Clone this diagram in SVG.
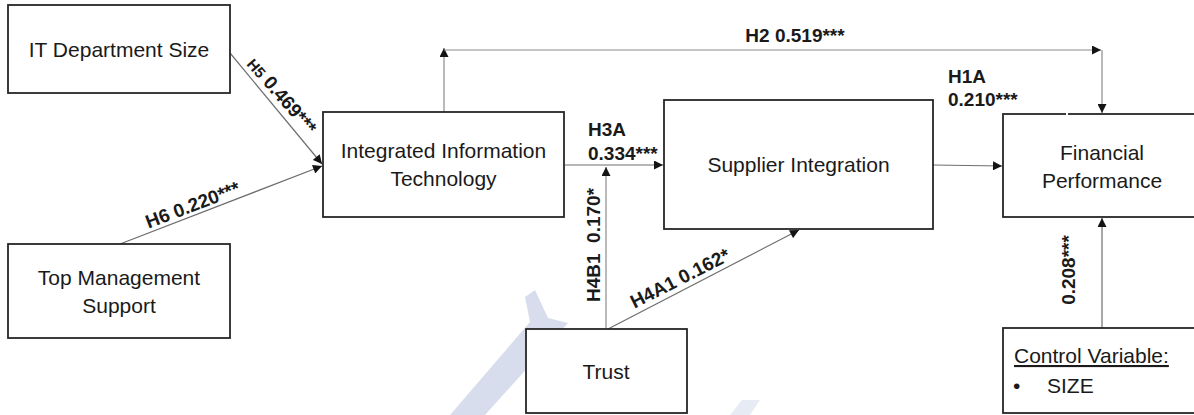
<svg xmlns="http://www.w3.org/2000/svg" width="1194" height="415" viewBox="0 0 1194 415">
  <defs>
    <style>
      .box { fill: #ffffff; stroke: #262626; stroke-width: 1.8; }
      .lbl { font-family: "Liberation Sans", Arial, sans-serif; font-size: 21px; fill: #1a1a1a; }
      .mid { text-anchor: middle; }
      .est { font-family: "Liberation Sans", Arial, sans-serif; font-size: 19px; font-weight: bold; fill: #1a1a1a; }
      .path { fill: none; stroke: #6e6e6e; stroke-width: 1.2; }
      .light { stroke: #8c8c8c; }
    </style>
    <marker id="arrow" viewBox="0 0 10 10" refX="10" refY="5" markerWidth="10" markerHeight="9" markerUnits="userSpaceOnUse" orient="auto">
      <path d="M0,0 L10,5 L0,10 z" fill="#141414"/>
    </marker>
  </defs>

  <rect width="1194" height="415" fill="#ffffff"/>

  <!-- faint background mark -->
  <g id="backdrop-mark" fill="#d7ddec">
    <polygon points="525,297 535,290 548,318 568,323 485,415 450,415 530,322"/>
    <polygon points="730,415 742,400 760,400 750,415" opacity="0.6"/>
  </g>

  <!-- connectors -->
  <g id="connectors">
    <line class="path" x1="230" y1="53" x2="322" y2="164" marker-end="url(#arrow)"/>
    <line class="path" x1="120" y1="244" x2="322" y2="166" marker-end="url(#arrow)"/>
    <line class="path light" x1="444" y1="112" x2="444" y2="48" marker-end="url(#arrow)"/>
    <line class="path light" x1="444" y1="50" x2="1101" y2="50" marker-end="url(#arrow)"/>
    <line class="path light" x1="1102" y1="50" x2="1102" y2="113" marker-end="url(#arrow)"/>
    <line class="path" x1="565" y1="165" x2="663" y2="165" marker-end="url(#arrow)"/>
    <line class="path light" x1="606" y1="329" x2="606" y2="167" marker-end="url(#arrow)"/>
    <line class="path" x1="608" y1="329" x2="799" y2="230" marker-end="url(#arrow)"/>
    <line class="path" x1="933" y1="165" x2="1002" y2="166" marker-end="url(#arrow)"/>
    <line class="path" x1="1102" y1="328" x2="1102" y2="218" marker-end="url(#arrow)"/>

    <!-- path estimates -->
    <text class="est" transform="translate(277,100) rotate(49)" text-anchor="middle"><tspan font-size="15">H5</tspan> 0.469***</text>
    <text class="est" transform="translate(195,211) rotate(-20.8)" text-anchor="middle">H6 0.220***</text>
    <text class="est" x="795" y="42" text-anchor="middle">H2 0.519***</text>
    <text class="est" x="588" y="136">H3A</text>
    <text class="est" x="588" y="160">0.334***</text>
    <text class="est" x="948" y="83">H1A</text>
    <text class="est" x="948" y="106">0.210***</text>
    <text class="est" transform="translate(600,245) rotate(-90)" text-anchor="middle" xml:space="preserve">H4B1  0.170*</text>
    <text class="est" transform="translate(683,284) rotate(-27)" text-anchor="middle">H4A1 0.162*</text>
    <text class="est" transform="translate(1075,270) rotate(-90)" text-anchor="middle">0.208***</text>
  </g>

  <g id="it-department-size">
    <rect class="box" x="8" y="5" width="222" height="88"/>
    <text class="lbl mid" x="119" y="57">IT Department Size</text>
  </g>

  <g id="top-management-support">
    <rect class="box" x="8" y="244" width="222" height="94"/>
    <text class="lbl mid" x="119" y="285">Top Management</text>
    <text class="lbl mid" x="119" y="313">Support</text>
  </g>

  <g id="integrated-information-technology">
    <rect class="box" x="323" y="112" width="241" height="105"/>
    <text class="lbl mid" x="443.5" y="158">Integrated Information</text>
    <text class="lbl mid" x="443.5" y="186">Technology</text>
  </g>

  <g id="supplier-integration">
    <rect class="box" x="664" y="100" width="269" height="129"/>
    <text class="lbl mid" x="798.5" y="172">Supplier Integration</text>
  </g>

  <g id="financial-performance">
    <rect class="box" x="1003" y="114" width="200" height="103"/>
    <line x1="1066" y1="114" x2="1068" y2="114" stroke="#ffffff" stroke-width="2"/>
    <text class="lbl mid" x="1102" y="160">Financial</text>
    <text class="lbl mid" x="1102" y="188">Performance</text>
  </g>

  <g id="trust">
    <rect class="box" x="526" y="329" width="161" height="84"/>
    <text class="lbl mid" x="606" y="379">Trust</text>
  </g>

  <g id="control-variable">
    <rect class="box" x="1003" y="328" width="200" height="85"/>
    <text class="lbl" x="1014" y="363" text-decoration="underline">Control Variable:</text>
    <text class="lbl" x="1013" y="393">•</text>
    <text class="lbl" x="1047" y="393">SIZE</text>
  </g>
</svg>
